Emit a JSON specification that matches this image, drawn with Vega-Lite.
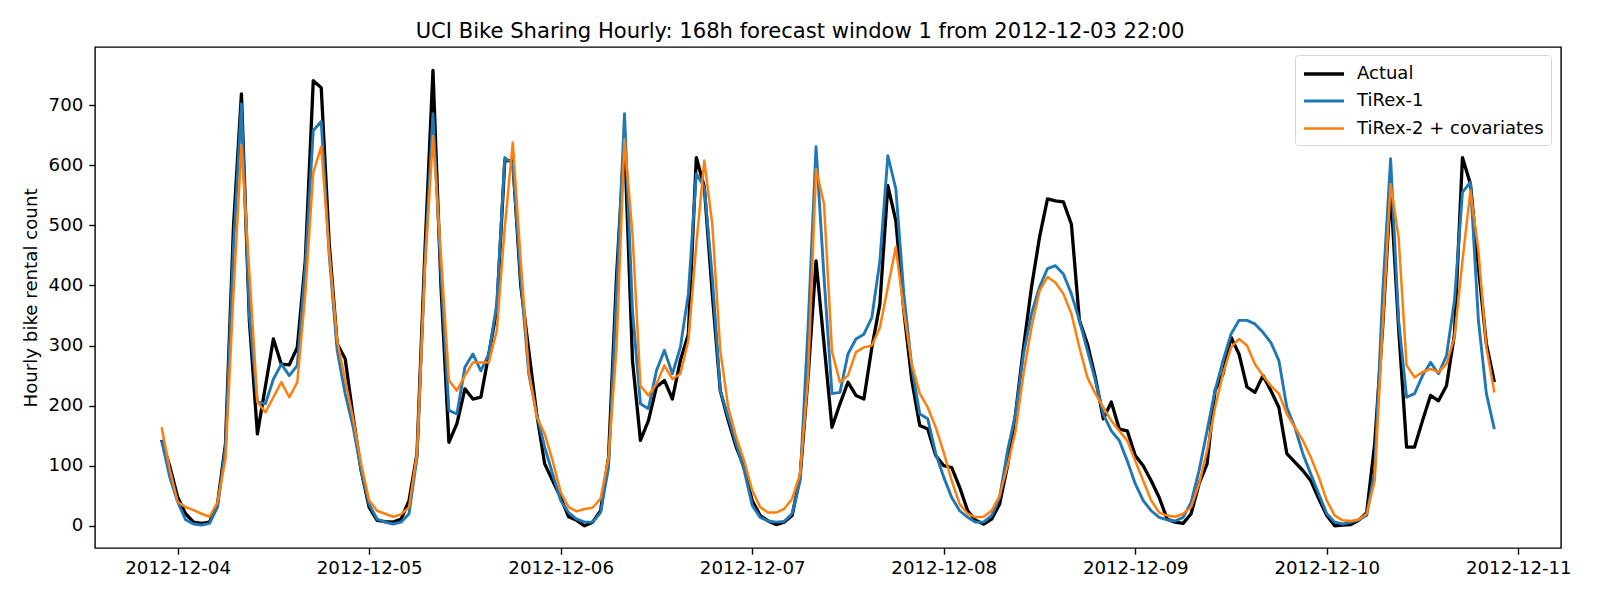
{
  "$schema": "https://vega.github.io/schema/vega-lite/v6.json",
  "width": 1466,
  "height": 501,
  "autosize": "none",
  "padding": {"left": 95, "top": 47, "right": 39, "bottom": 52},
  "background": "white",
  "config": {
    "font": "DejaVu Sans",
    "view": {"stroke": "black", "strokeWidth": 1.4},
    "axis": {"grid": false, "domain": false, "tickColor": "black", "tickWidth": 1.4, "tickSize": 6.2, "labelColor": "black", "labelFont": "DejaVu Sans", "labelFontSize": 18.2, "titleFont": "DejaVu Sans", "titleFontSize": 18.2, "titleFontWeight": "normal", "titleColor": "black"},
    "legend": {"labelFont": "DejaVu Sans", "labelFontSize": 18, "labelFontWeight": "normal", "labelColor": "black"}
  },
  "title": {"text": "UCI Bike Sharing Hourly: 168h forecast window 1 from 2012-12-03 22:00", "font": "DejaVu Sans", "fontSize": 21.1, "fontWeight": "normal", "color": "black", "anchor": "middle", "offset": 5, "dx": -28},
  "data": {"values": [
    {"t":"2012-12-03T22:00","Actual":143,"TiRex-1":142,"TiRex-2 + covariates":164},
    {"t":"2012-12-03T23:00","Actual":100,"TiRex-1":82,"TiRex-2 + covariates":95},
    {"t":"2012-12-04T00:00","Actual":48,"TiRex-1":40,"TiRex-2 + covariates":40},
    {"t":"2012-12-04T01:00","Actual":20,"TiRex-1":10,"TiRex-2 + covariates":31},
    {"t":"2012-12-04T02:00","Actual":6,"TiRex-1":3,"TiRex-2 + covariates":26},
    {"t":"2012-12-04T03:00","Actual":4,"TiRex-1":1,"TiRex-2 + covariates":20},
    {"t":"2012-12-04T04:00","Actual":6,"TiRex-1":4,"TiRex-2 + covariates":15},
    {"t":"2012-12-04T05:00","Actual":36,"TiRex-1":31,"TiRex-2 + covariates":39},
    {"t":"2012-12-04T06:00","Actual":136,"TiRex-1":131,"TiRex-2 + covariates":111},
    {"t":"2012-12-04T07:00","Actual":497,"TiRex-1":464,"TiRex-2 + covariates":386},
    {"t":"2012-12-04T08:00","Actual":719,"TiRex-1":702,"TiRex-2 + covariates":633},
    {"t":"2012-12-04T09:00","Actual":340,"TiRex-1":350,"TiRex-2 + covariates":420},
    {"t":"2012-12-04T10:00","Actual":153,"TiRex-1":206,"TiRex-2 + covariates":206},
    {"t":"2012-12-04T11:00","Actual":232,"TiRex-1":203,"TiRex-2 + covariates":189},
    {"t":"2012-12-04T12:00","Actual":311,"TiRex-1":244,"TiRex-2 + covariates":214},
    {"t":"2012-12-04T13:00","Actual":269,"TiRex-1":269,"TiRex-2 + covariates":239},
    {"t":"2012-12-04T14:00","Actual":268,"TiRex-1":250,"TiRex-2 + covariates":214},
    {"t":"2012-12-04T15:00","Actual":297,"TiRex-1":267,"TiRex-2 + covariates":239},
    {"t":"2012-12-04T16:00","Actual":441,"TiRex-1":430,"TiRex-2 + covariates":386},
    {"t":"2012-12-04T17:00","Actual":741,"TiRex-1":658,"TiRex-2 + covariates":588},
    {"t":"2012-12-04T18:00","Actual":729,"TiRex-1":673,"TiRex-2 + covariates":631},
    {"t":"2012-12-04T19:00","Actual":470,"TiRex-1":450,"TiRex-2 + covariates":455},
    {"t":"2012-12-04T20:00","Actual":303,"TiRex-1":292,"TiRex-2 + covariates":308},
    {"t":"2012-12-04T21:00","Actual":278,"TiRex-1":220,"TiRex-2 + covariates":242},
    {"t":"2012-12-04T22:00","Actual":181,"TiRex-1":164,"TiRex-2 + covariates":178},
    {"t":"2012-12-04T23:00","Actual":92,"TiRex-1":92,"TiRex-2 + covariates":103},
    {"t":"2012-12-05T00:00","Actual":31,"TiRex-1":36,"TiRex-2 + covariates":42},
    {"t":"2012-12-05T01:00","Actual":9,"TiRex-1":11,"TiRex-2 + covariates":25},
    {"t":"2012-12-05T02:00","Actual":7,"TiRex-1":6,"TiRex-2 + covariates":20},
    {"t":"2012-12-05T03:00","Actual":6,"TiRex-1":3,"TiRex-2 + covariates":15},
    {"t":"2012-12-05T04:00","Actual":11,"TiRex-1":6,"TiRex-2 + covariates":19},
    {"t":"2012-12-05T05:00","Actual":42,"TiRex-1":20,"TiRex-2 + covariates":31},
    {"t":"2012-12-05T06:00","Actual":120,"TiRex-1":114,"TiRex-2 + covariates":120},
    {"t":"2012-12-05T07:00","Actual":460,"TiRex-1":440,"TiRex-2 + covariates":430},
    {"t":"2012-12-05T08:00","Actual":758,"TiRex-1":686,"TiRex-2 + covariates":649},
    {"t":"2012-12-05T09:00","Actual":400,"TiRex-1":420,"TiRex-2 + covariates":450},
    {"t":"2012-12-05T10:00","Actual":139,"TiRex-1":192,"TiRex-2 + covariates":242},
    {"t":"2012-12-05T11:00","Actual":170,"TiRex-1":186,"TiRex-2 + covariates":225},
    {"t":"2012-12-05T12:00","Actual":228,"TiRex-1":264,"TiRex-2 + covariates":250},
    {"t":"2012-12-05T13:00","Actual":211,"TiRex-1":286,"TiRex-2 + covariates":272},
    {"t":"2012-12-05T14:00","Actual":214,"TiRex-1":258,"TiRex-2 + covariates":272},
    {"t":"2012-12-05T15:00","Actual":286,"TiRex-1":286,"TiRex-2 + covariates":272},
    {"t":"2012-12-05T16:00","Actual":360,"TiRex-1":370,"TiRex-2 + covariates":325},
    {"t":"2012-12-05T17:00","Actual":608,"TiRex-1":613,"TiRex-2 + covariates":497},
    {"t":"2012-12-05T18:00","Actual":608,"TiRex-1":602,"TiRex-2 + covariates":638},
    {"t":"2012-12-05T19:00","Actual":400,"TiRex-1":410,"TiRex-2 + covariates":440},
    {"t":"2012-12-05T20:00","Actual":292,"TiRex-1":253,"TiRex-2 + covariates":258},
    {"t":"2012-12-05T21:00","Actual":186,"TiRex-1":186,"TiRex-2 + covariates":181},
    {"t":"2012-12-05T22:00","Actual":103,"TiRex-1":131,"TiRex-2 + covariates":153},
    {"t":"2012-12-05T23:00","Actual":75,"TiRex-1":86,"TiRex-2 + covariates":108},
    {"t":"2012-12-06T00:00","Actual":47,"TiRex-1":42,"TiRex-2 + covariates":56},
    {"t":"2012-12-06T01:00","Actual":15,"TiRex-1":22,"TiRex-2 + covariates":31},
    {"t":"2012-12-06T02:00","Actual":9,"TiRex-1":11,"TiRex-2 + covariates":24},
    {"t":"2012-12-06T03:00","Actual":0,"TiRex-1":6,"TiRex-2 + covariates":28},
    {"t":"2012-12-06T04:00","Actual":6,"TiRex-1":6,"TiRex-2 + covariates":30},
    {"t":"2012-12-06T05:00","Actual":25,"TiRex-1":22,"TiRex-2 + covariates":45},
    {"t":"2012-12-06T06:00","Actual":114,"TiRex-1":97,"TiRex-2 + covariates":114},
    {"t":"2012-12-06T07:00","Actual":414,"TiRex-1":386,"TiRex-2 + covariates":297},
    {"t":"2012-12-06T08:00","Actual":645,"TiRex-1":686,"TiRex-2 + covariates":644},
    {"t":"2012-12-06T09:00","Actual":275,"TiRex-1":358,"TiRex-2 + covariates":486},
    {"t":"2012-12-06T10:00","Actual":142,"TiRex-1":203,"TiRex-2 + covariates":233},
    {"t":"2012-12-06T11:00","Actual":175,"TiRex-1":195,"TiRex-2 + covariates":217},
    {"t":"2012-12-06T12:00","Actual":231,"TiRex-1":258,"TiRex-2 + covariates":236},
    {"t":"2012-12-06T13:00","Actual":242,"TiRex-1":292,"TiRex-2 + covariates":267},
    {"t":"2012-12-06T14:00","Actual":211,"TiRex-1":253,"TiRex-2 + covariates":244},
    {"t":"2012-12-06T15:00","Actual":275,"TiRex-1":297,"TiRex-2 + covariates":253},
    {"t":"2012-12-06T16:00","Actual":319,"TiRex-1":386,"TiRex-2 + covariates":308},
    {"t":"2012-12-06T17:00","Actual":613,"TiRex-1":586,"TiRex-2 + covariates":469},
    {"t":"2012-12-06T18:00","Actual":564,"TiRex-1":564,"TiRex-2 + covariates":608},
    {"t":"2012-12-06T19:00","Actual":386,"TiRex-1":414,"TiRex-2 + covariates":502},
    {"t":"2012-12-06T20:00","Actual":225,"TiRex-1":225,"TiRex-2 + covariates":292},
    {"t":"2012-12-06T21:00","Actual":175,"TiRex-1":181,"TiRex-2 + covariates":197},
    {"t":"2012-12-06T22:00","Actual":131,"TiRex-1":136,"TiRex-2 + covariates":147},
    {"t":"2012-12-06T23:00","Actual":97,"TiRex-1":92,"TiRex-2 + covariates":108},
    {"t":"2012-12-07T00:00","Actual":42,"TiRex-1":34,"TiRex-2 + covariates":59},
    {"t":"2012-12-07T01:00","Actual":17,"TiRex-1":14,"TiRex-2 + covariates":31},
    {"t":"2012-12-07T02:00","Actual":8,"TiRex-1":8,"TiRex-2 + covariates":22},
    {"t":"2012-12-07T03:00","Actual":2,"TiRex-1":6,"TiRex-2 + covariates":22},
    {"t":"2012-12-07T04:00","Actual":6,"TiRex-1":7,"TiRex-2 + covariates":28},
    {"t":"2012-12-07T05:00","Actual":17,"TiRex-1":20,"TiRex-2 + covariates":45},
    {"t":"2012-12-07T06:00","Actual":81,"TiRex-1":75,"TiRex-2 + covariates":86},
    {"t":"2012-12-07T07:00","Actual":247,"TiRex-1":330,"TiRex-2 + covariates":247},
    {"t":"2012-12-07T08:00","Actual":441,"TiRex-1":631,"TiRex-2 + covariates":594},
    {"t":"2012-12-07T09:00","Actual":303,"TiRex-1":414,"TiRex-2 + covariates":536},
    {"t":"2012-12-07T10:00","Actual":164,"TiRex-1":220,"TiRex-2 + covariates":290},
    {"t":"2012-12-07T11:00","Actual":203,"TiRex-1":222,"TiRex-2 + covariates":239},
    {"t":"2012-12-07T12:00","Actual":239,"TiRex-1":286,"TiRex-2 + covariates":250},
    {"t":"2012-12-07T13:00","Actual":217,"TiRex-1":311,"TiRex-2 + covariates":289},
    {"t":"2012-12-07T14:00","Actual":211,"TiRex-1":319,"TiRex-2 + covariates":297},
    {"t":"2012-12-07T15:00","Actual":297,"TiRex-1":347,"TiRex-2 + covariates":300},
    {"t":"2012-12-07T16:00","Actual":369,"TiRex-1":441,"TiRex-2 + covariates":330},
    {"t":"2012-12-07T17:00","Actual":566,"TiRex-1":616,"TiRex-2 + covariates":397},
    {"t":"2012-12-07T18:00","Actual":508,"TiRex-1":561,"TiRex-2 + covariates":464},
    {"t":"2012-12-07T19:00","Actual":358,"TiRex-1":386,"TiRex-2 + covariates":358},
    {"t":"2012-12-07T20:00","Actual":242,"TiRex-1":264,"TiRex-2 + covariates":269},
    {"t":"2012-12-07T21:00","Actual":167,"TiRex-1":186,"TiRex-2 + covariates":220},
    {"t":"2012-12-07T22:00","Actual":161,"TiRex-1":178,"TiRex-2 + covariates":197},
    {"t":"2012-12-07T23:00","Actual":117,"TiRex-1":120,"TiRex-2 + covariates":164},
    {"t":"2012-12-08T00:00","Actual":100,"TiRex-1":81,"TiRex-2 + covariates":122},
    {"t":"2012-12-08T01:00","Actual":97,"TiRex-1":47,"TiRex-2 + covariates":75},
    {"t":"2012-12-08T02:00","Actual":64,"TiRex-1":25,"TiRex-2 + covariates":36},
    {"t":"2012-12-08T03:00","Actual":25,"TiRex-1":14,"TiRex-2 + covariates":20},
    {"t":"2012-12-08T04:00","Actual":9,"TiRex-1":6,"TiRex-2 + covariates":14},
    {"t":"2012-12-08T05:00","Actual":3,"TiRex-1":6,"TiRex-2 + covariates":15},
    {"t":"2012-12-08T06:00","Actual":11,"TiRex-1":17,"TiRex-2 + covariates":25},
    {"t":"2012-12-08T07:00","Actual":36,"TiRex-1":47,"TiRex-2 + covariates":50},
    {"t":"2012-12-08T08:00","Actual":100,"TiRex-1":125,"TiRex-2 + covariates":100},
    {"t":"2012-12-08T09:00","Actual":186,"TiRex-1":186,"TiRex-2 + covariates":158},
    {"t":"2012-12-08T10:00","Actual":297,"TiRex-1":286,"TiRex-2 + covariates":253},
    {"t":"2012-12-08T11:00","Actual":397,"TiRex-1":353,"TiRex-2 + covariates":330},
    {"t":"2012-12-08T12:00","Actual":480,"TiRex-1":397,"TiRex-2 + covariates":391},
    {"t":"2012-12-08T13:00","Actual":544,"TiRex-1":428,"TiRex-2 + covariates":414},
    {"t":"2012-12-08T14:00","Actual":541,"TiRex-1":433,"TiRex-2 + covariates":405},
    {"t":"2012-12-08T15:00","Actual":539,"TiRex-1":419,"TiRex-2 + covariates":386},
    {"t":"2012-12-08T16:00","Actual":502,"TiRex-1":386,"TiRex-2 + covariates":353},
    {"t":"2012-12-08T17:00","Actual":342,"TiRex-1":342,"TiRex-2 + covariates":297},
    {"t":"2012-12-08T18:00","Actual":303,"TiRex-1":292,"TiRex-2 + covariates":247},
    {"t":"2012-12-08T19:00","Actual":247,"TiRex-1":242,"TiRex-2 + covariates":220},
    {"t":"2012-12-08T20:00","Actual":178,"TiRex-1":186,"TiRex-2 + covariates":197},
    {"t":"2012-12-08T21:00","Actual":206,"TiRex-1":158,"TiRex-2 + covariates":175},
    {"t":"2012-12-08T22:00","Actual":161,"TiRex-1":142,"TiRex-2 + covariates":158},
    {"t":"2012-12-08T23:00","Actual":158,"TiRex-1":108,"TiRex-2 + covariates":142},
    {"t":"2012-12-09T00:00","Actual":117,"TiRex-1":70,"TiRex-2 + covariates":108},
    {"t":"2012-12-09T01:00","Actual":100,"TiRex-1":42,"TiRex-2 + covariates":75},
    {"t":"2012-12-09T02:00","Actual":75,"TiRex-1":25,"TiRex-2 + covariates":42},
    {"t":"2012-12-09T03:00","Actual":47,"TiRex-1":14,"TiRex-2 + covariates":22},
    {"t":"2012-12-09T04:00","Actual":11,"TiRex-1":10,"TiRex-2 + covariates":17},
    {"t":"2012-12-09T05:00","Actual":6,"TiRex-1":8,"TiRex-2 + covariates":15},
    {"t":"2012-12-09T06:00","Actual":4,"TiRex-1":14,"TiRex-2 + covariates":20},
    {"t":"2012-12-09T07:00","Actual":20,"TiRex-1":39,"TiRex-2 + covariates":31},
    {"t":"2012-12-09T08:00","Actual":70,"TiRex-1":92,"TiRex-2 + covariates":70},
    {"t":"2012-12-09T09:00","Actual":103,"TiRex-1":158,"TiRex-2 + covariates":125},
    {"t":"2012-12-09T10:00","Actual":225,"TiRex-1":225,"TiRex-2 + covariates":197},
    {"t":"2012-12-09T11:00","Actual":253,"TiRex-1":275,"TiRex-2 + covariates":253},
    {"t":"2012-12-09T12:00","Actual":314,"TiRex-1":319,"TiRex-2 + covariates":297},
    {"t":"2012-12-09T13:00","Actual":286,"TiRex-1":342,"TiRex-2 + covariates":311},
    {"t":"2012-12-09T14:00","Actual":231,"TiRex-1":342,"TiRex-2 + covariates":300},
    {"t":"2012-12-09T15:00","Actual":222,"TiRex-1":336,"TiRex-2 + covariates":269},
    {"t":"2012-12-09T16:00","Actual":250,"TiRex-1":322,"TiRex-2 + covariates":250},
    {"t":"2012-12-09T17:00","Actual":225,"TiRex-1":305,"TiRex-2 + covariates":233},
    {"t":"2012-12-09T18:00","Actual":197,"TiRex-1":275,"TiRex-2 + covariates":220},
    {"t":"2012-12-09T19:00","Actual":120,"TiRex-1":197,"TiRex-2 + covariates":186},
    {"t":"2012-12-09T20:00","Actual":106,"TiRex-1":164,"TiRex-2 + covariates":164},
    {"t":"2012-12-09T21:00","Actual":92,"TiRex-1":120,"TiRex-2 + covariates":142},
    {"t":"2012-12-09T22:00","Actual":75,"TiRex-1":86,"TiRex-2 + covariates":114},
    {"t":"2012-12-09T23:00","Actual":45,"TiRex-1":53,"TiRex-2 + covariates":81},
    {"t":"2012-12-10T00:00","Actual":17,"TiRex-1":20,"TiRex-2 + covariates":42},
    {"t":"2012-12-10T01:00","Actual":0,"TiRex-1":6,"TiRex-2 + covariates":17},
    {"t":"2012-12-10T02:00","Actual":1,"TiRex-1":3,"TiRex-2 + covariates":9},
    {"t":"2012-12-10T03:00","Actual":2,"TiRex-1":6,"TiRex-2 + covariates":8},
    {"t":"2012-12-10T04:00","Actual":9,"TiRex-1":10,"TiRex-2 + covariates":10},
    {"t":"2012-12-10T05:00","Actual":22,"TiRex-1":17,"TiRex-2 + covariates":20},
    {"t":"2012-12-10T06:00","Actual":136,"TiRex-1":92,"TiRex-2 + covariates":75},
    {"t":"2012-12-10T07:00","Actual":330,"TiRex-1":386,"TiRex-2 + covariates":330},
    {"t":"2012-12-10T08:00","Actual":560,"TiRex-1":611,"TiRex-2 + covariates":569},
    {"t":"2012-12-10T09:00","Actual":330,"TiRex-1":342,"TiRex-2 + covariates":480},
    {"t":"2012-12-10T10:00","Actual":131,"TiRex-1":214,"TiRex-2 + covariates":267},
    {"t":"2012-12-10T11:00","Actual":131,"TiRex-1":220,"TiRex-2 + covariates":247},
    {"t":"2012-12-10T12:00","Actual":175,"TiRex-1":250,"TiRex-2 + covariates":256},
    {"t":"2012-12-10T13:00","Actual":217,"TiRex-1":272,"TiRex-2 + covariates":261},
    {"t":"2012-12-10T14:00","Actual":208,"TiRex-1":253,"TiRex-2 + covariates":256},
    {"t":"2012-12-10T15:00","Actual":233,"TiRex-1":283,"TiRex-2 + covariates":269},
    {"t":"2012-12-10T16:00","Actual":319,"TiRex-1":375,"TiRex-2 + covariates":314},
    {"t":"2012-12-10T17:00","Actual":613,"TiRex-1":555,"TiRex-2 + covariates":441},
    {"t":"2012-12-10T18:00","Actual":569,"TiRex-1":572,"TiRex-2 + covariates":558},
    {"t":"2012-12-10T19:00","Actual":430,"TiRex-1":342,"TiRex-2 + covariates":458},
    {"t":"2012-12-10T20:00","Actual":303,"TiRex-1":220,"TiRex-2 + covariates":297},
    {"t":"2012-12-10T21:00","Actual":239,"TiRex-1":161,"TiRex-2 + covariates":222}
  ]},
  "transform": [
    {"fold": ["Actual", "TiRex-1", "TiRex-2 + covariates"], "as": ["series", "count"]}
  ],
  "mark": {"type": "line", "strokeJoin": "round", "strokeCap": "butt", "clip": true},
  "encoding": {
    "x": {
      "field": "t", "type": "temporal",
      "scale": {"domain": [{"year": 2012, "month": 12, "date": 3, "hours": 13, "minutes": 39}, {"year": 2012, "month": 12, "date": 11, "hours": 5, "minutes": 21}], "nice": false},
      "axis": {"title": null, "format": "%Y-%m-%d", "tickCount": {"interval": "day", "step": 1}, "labelPadding": 5, "labelOverlap": false, "labelFlush": false}
    },
    "y": {
      "field": "count", "type": "quantitative",
      "scale": {"domain": [-37, 797], "nice": false, "zero": false},
      "axis": {"title": "Hourly bike rental count", "values": [0, 100, 200, 300, 400, 500, 600, 700], "labelPadding": 6, "titlePadding": 8}
    },
    "color": {
      "field": "series", "type": "nominal",
      "scale": {"domain": ["Actual", "TiRex-1", "TiRex-2 + covariates"], "range": ["#000000", "#1f77b4", "#ff7f0e"]},
      "legend": {"title": null, "orient": "none", "legendX": 1200, "legendY": 8, "padding": 7, "fillColor": "white", "strokeColor": "#d6d6d6", "cornerRadius": 3, "symbolType": "M-2,0H2", "symbolSize": 400, "symbolOffset": 10, "symbolStrokeWidth": 3, "labelOffset": 21, "labelLimit": 0, "rowPadding": 6.5}
    },
    "strokeWidth": {
      "field": "series", "type": "nominal",
      "scale": {"domain": ["Actual", "TiRex-1", "TiRex-2 + covariates"], "range": [3.3, 2.5, 2.5]},
      "legend": null
    }
  }
}
